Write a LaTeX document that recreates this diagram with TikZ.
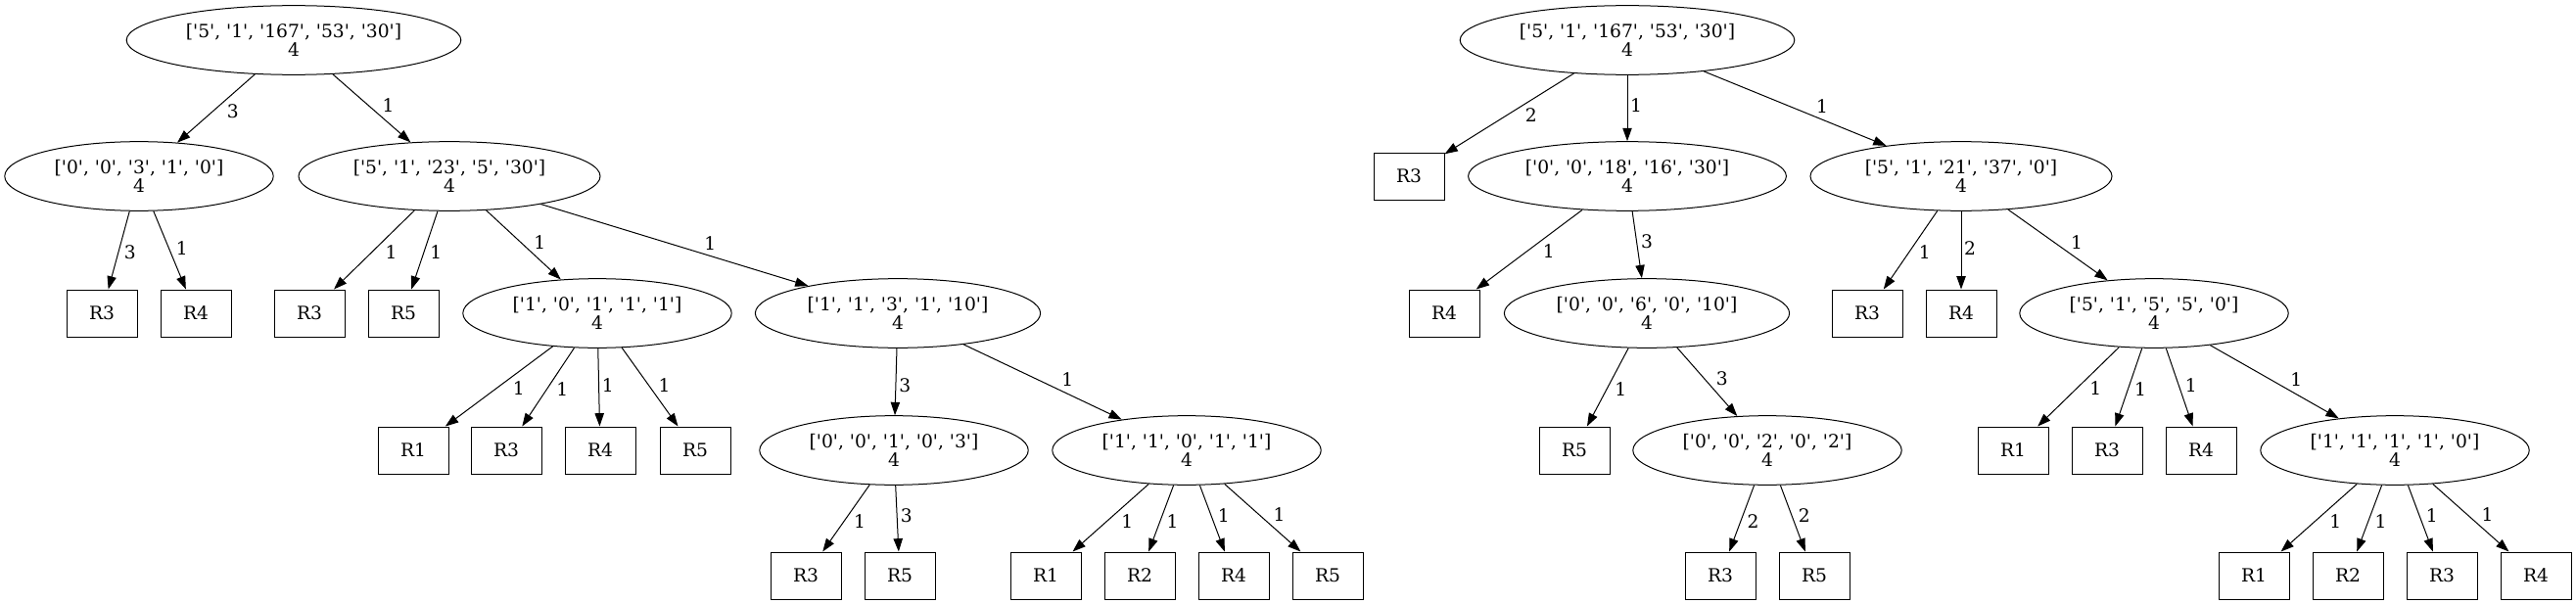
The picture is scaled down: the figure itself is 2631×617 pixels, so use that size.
\documentclass[tikz,border=0pt]{standalone}
\usepackage{fontspec}
\setmainfont{DejaVu Serif}[Ligatures=TeXOff]
\usetikzlibrary{arrows.meta,shapes.geometric}

\tikzset{
treenode/.style={ellipse,draw,line width=0.75pt,align=center,inner xsep=8pt,inner ysep=1pt,minimum height=53pt},
leafbox/.style={rectangle,draw,line width=0.75pt,minimum width=54pt,minimum height=36pt,inner sep=0pt},
link/.style={line width=0.75pt,-{Triangle[length=10pt,width=7pt]}},
wl/.style={pos=0.4,anchor=north west,inner sep=2pt},
wr/.style={pos=0.6,anchor=south west,inner sep=2pt}
}

\begin{document}
\begin{tikzpicture}[x=0.75pt,y=-0.75pt,font=\fontsize{14}{14.5}\selectfont]
\useasboundingbox (0,0) rectangle (2631,617);
%left tree
\node[treenode] (A) at (300,41) {['5', '1', '167', '53', '30']\\4};
\node[treenode] (B) at (142,180) {['0', '0', '3', '1', '0']\\4};
\node[treenode] (C) at (459,180) {['5', '1', '23', '5', '30']\\4};
\node[leafbox] (B3) at (104,320) {R3};
\node[leafbox] (B4) at (200,320) {R4};
\node[leafbox] (C3) at (316,320) {R3};
\node[leafbox] (C5) at (412,320) {R5};
\node[treenode] (D) at (610,320) {['1', '0', '1', '1', '1']\\4};
\node[treenode] (E) at (917,320) {['1', '1', '3', '1', '10']\\4};
\node[leafbox] (D1) at (422,460) {R1};
\node[leafbox] (D3) at (517,460) {R3};
\node[leafbox] (D4) at (613,460) {R4};
\node[leafbox] (D5) at (710,460) {R5};
\node[treenode] (F) at (913,460) {['0', '0', '1', '0', '3']\\4};
\node[treenode] (G) at (1212,460) {['1', '1', '0', '1', '1']\\4};
\node[leafbox] (F3) at (823,588) {R3};
\node[leafbox] (F5) at (919,588) {R5};
\node[leafbox] (G1) at (1068,588) {R1};
\node[leafbox] (G2) at (1164,588) {R2};
\node[leafbox] (G4) at (1260,588) {R4};
\node[leafbox] (G5) at (1356,588) {R5};
\draw[link] (A) -- (B) node[wl] {3};
\draw[link] (A) -- (C) node[wr] {1};
\draw[link] (B) -- (B3) node[wl] {3};
\draw[link] (B) -- (B4) node[wr] {1};
\draw[link] (C) -- (C3) node[wl] {1};
\draw[link] (C) -- (C5) node[wl] {1};
\draw[link] (C) -- (D) node[wr] {1};
\draw[link] (C) -- (E) node[wr] {1};
\foreach \c/\s in {D1/wl,D3/wl,D4/wr,D5/wr}
   \draw[link] (D) -- (\c) node[\s] {1};
\draw[link] (E) -- (F) node[wl] {3};
\draw[link] (E) -- (G) node[wr] {1};
\draw[link] (F) -- (F3) node[wl] {1};
\draw[link] (F) -- (F5) node[wr] {3};
\foreach \c/\s in {G1/wl,G2/wl,G4/wr,G5/wr}
   \draw[link] (G) -- (\c) node[\s] {1};
%right tree
\node[treenode] (H) at (1662,41) {['5', '1', '167', '53', '30']\\4};
\node[leafbox] (H3) at (1439,180) {R3};
\node[treenode] (J) at (1662,180) {['0', '0', '18', '16', '30']\\4};
\node[treenode] (K) at (2003,180) {['5', '1', '21', '37', '0']\\4};
\node[leafbox] (J4) at (1475,320) {R4};
\node[treenode] (L) at (1682,320) {['0', '0', '6', '0', '10']\\4};
\node[leafbox] (K3) at (1907,320) {R3};
\node[leafbox] (K4) at (2003,320) {R4};
\node[treenode] (M) at (2200,320) {['5', '1', '5', '5', '0']\\4};
\node[leafbox] (L5) at (1608,460) {R5};
\node[treenode] (N) at (1805,460) {['0', '0', '2', '0', '2']\\4};
\node[leafbox] (M1) at (2056,460) {R1};
\node[leafbox] (M3) at (2152,460) {R3};
\node[leafbox] (M4) at (2248,460) {R4};
\node[treenode] (O) at (2446,460) {['1', '1', '1', '1', '0']\\4};
\node[leafbox] (N3) at (1757,588) {R3};
\node[leafbox] (N5) at (1853,588) {R5};
\node[leafbox] (O1) at (2302,588) {R1};
\node[leafbox] (O2) at (2398,588) {R2};
\node[leafbox] (O3) at (2494,588) {R3};
\node[leafbox] (O4) at (2590,588) {R4};
\draw[link] (H) -- (H3) node[wl] {2};
\draw[link] (H) -- (J) node[wr] {1};
\draw[link] (H) -- (K) node[wr] {1};
\draw[link] (J) -- (J4) node[wl] {1};
\draw[link] (J) -- (L) node[wr] {3};
\draw[link] (K) -- (K3) node[wl] {1};
\draw[link] (K) -- (K4) node[wr] {2};
\draw[link] (K) -- (M) node[wr] {1};
\draw[link] (L) -- (L5) node[wl] {1};
\draw[link] (L) -- (N) node[wr] {3};
\draw[link] (N) -- (N3) node[wl] {2};
\draw[link] (N) -- (N5) node[wr] {2};
\foreach \c/\s in {M1/wl,M3/wl,M4/wr}
   \draw[link] (M) -- (\c) node[\s] {1};
\draw[link] (M) -- (O) node[wr] {1};
\foreach \c/\s in {O1/wl,O2/wl,O3/wr,O4/wr}
   \draw[link] (O) -- (\c) node[\s] {1};
\end{tikzpicture}
\end{document}
